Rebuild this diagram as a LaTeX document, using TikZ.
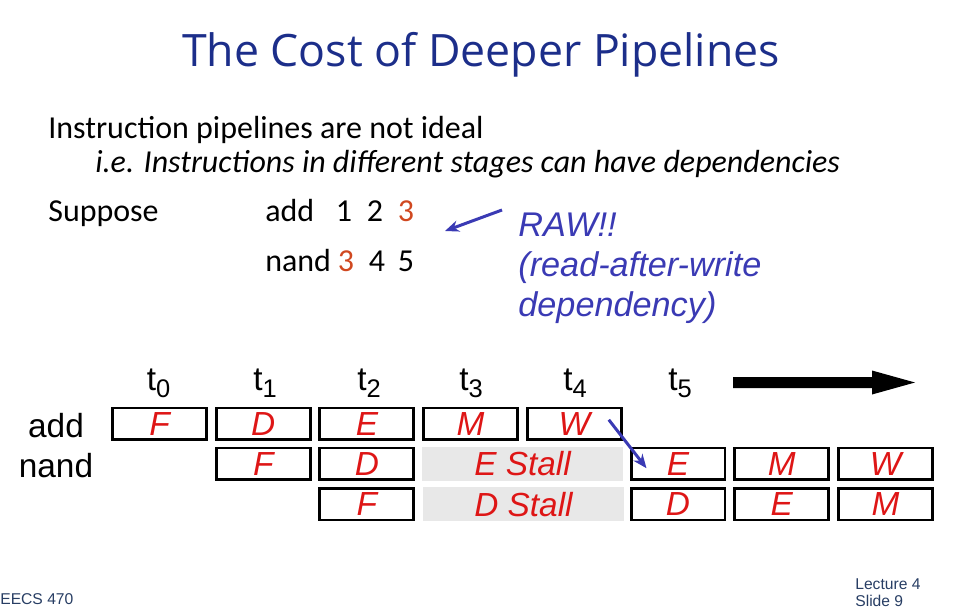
\documentclass[tikz,border=0pt]{standalone}
\usepackage{fontspec}
\setmainfont{Carlito}
\newfontfamily\arialf{Liberation Sans}
\newfontfamily\titlef{Open Sans}
\usetikzlibrary{arrows.meta,calc}
\definecolor{titleblue}{RGB}{28,46,138}
\definecolor{cellred}{RGB}{222,22,22}
\definecolor{numred}{RGB}{208,72,32}
\definecolor{rawblue}{RGB}{58,58,180}
\definecolor{stallgrey}{RGB}{232,232,232}
\definecolor{footblue}{RGB}{40,62,100}
\newcommand{\tsub}[1]{t\raisebox{-4pt}{\fontsize{14.5}{16}\selectfont #1}}
\begin{document}
\begin{tikzpicture}[x=0.02cm,y=-0.02cm,
  txt/.style={inner sep=0pt,anchor=base west},
  body/.style={txt,font=\fontsize{18.2}{22}\selectfont},
  arialtxt/.style={inner sep=0pt,font=\arialf\fontsize{19}{22}\selectfont},
  rawtxt/.style={txt,font=\arialf\itshape\fontsize{19.5}{22}\selectfont,text=rawblue},
  cell/.style={draw=black,line width=1.7pt,minimum width=1.88cm,minimum height=0.63cm,inner sep=0pt,
    font=\arialf\itshape\fontsize{19}{22}\selectfont,text=cellred},
  stall/.style={fill=stallgrey,minimum width=4.02cm,minimum height=0.69cm,inner sep=0pt,
    font=\arialf\itshape\fontsize{19}{22}\selectfont,text=cellred},
  tlab/.style={inner sep=0pt,anchor=base west,font=\arialf\fontsize{19}{22}\selectfont},
  bluearrow/.style={draw=rawblue,line width=1.7pt,-{Stealth[length=8pt,width=6.5pt]}},
  foot/.style={inner sep=0pt,anchor=base west,font=\arialf\fontsize{8.9}{10}\selectfont,text=footblue}
]
\useasboundingbox (0,0) rectangle (958,612);

% title
\node[inner sep=0pt,anchor=base,font=\titlef\fontsize{25.4}{30}\selectfont,text=titleblue] (title) at (481,67) {The Cost of Deeper Pipelines};

% body text
\node[body] (l1) at (48,138) {Instruction pipelines are not ideal};
\node[body,font=\fontsize{18.2}{22}\selectfont\itshape] (l2) at (95,172) {i.e. Instructions in different stages can have dependencies};
\node[body] (sup) at (48,221) {Suppose};
\node[body] (add) at (265,221) {add};
\node[body,anchor=base] (a1) at (344,221) {1};
\node[body,anchor=base] (a2) at (375,221) {2};
\node[body,anchor=base,text=numred] (a3) at (406,221) {3};
\node[body] (nand) at (265,271) {nand};
\node[body,anchor=base,text=numred] (n3) at (346,271) {3};
\node[body,anchor=base] (n4) at (377,271) {4};
\node[body,anchor=base] (n5) at (406,271) {5};

% RAW note
\node[rawtxt] (raw1) at (518,236.5) {RAW!!};
\node[rawtxt] (raw2) at (518,276.5) {(read-after-write};
\node[rawtxt] (raw3) at (518,316.5) {dependency)};
\coordinate (rawfrom) at (502,210);
\coordinate (rawto) at (445,231);
\draw[bluearrow] (rawfrom) -- (rawto);

% time labels
\node[tlab] (t0) at (146.5,390) {\tsub{0}};
\node[tlab] (t1) at (253,390) {\tsub{1}};
\node[tlab] (t2) at (357,390) {\tsub{2}};
\node[tlab] (t3) at (459,390) {\tsub{3}};
\node[tlab] (t4) at (563,390) {\tsub{4}};
\node[tlab] (t5) at (668,390) {\tsub{5}};

% big time arrow
\coordinate (ta) at (733,382.5);
\fill[black] (ta) ++(0,-5.5) -- (872,377) -- (872,370.5) -- (915,382.5) -- (872,394.5) -- (872,388) -- (733,388) -- cycle;

% row labels
\node[arialtxt,anchor=base] (radd) at (56,437) {add};
\node[arialtxt,anchor=base] (rnand) at (56,477) {nand};

% pipeline cells
\node[cell] (r1c0) at (159.5,423.75) {F};
\node[cell] (r1c1) at (263.2,423.75) {D};
\node[cell] (r1c2) at (366.9,423.75) {E};
\node[cell] (r1c3) at (470.6,423.75) {M};
\node[cell] (r1c4) at (574.3,423.75) {W};

\node[cell] (r2c1) at (263.2,463.75) {F};
\node[cell] (r2c2) at (366.9,463.75) {D};
\node[stall] (r2s) at (522.5,463.75) {E Stall};
\node[cell] (r2c5) at (678,463.75) {E};
\node[cell] (r2c6) at (781.7,463.75) {M};
\node[cell] (r2c7) at (885.5,463.75) {W};

\node[cell] (r3c2) at (366.9,504.25) {F};
\node[stall] (r3s) at (523.5,504.25) {D Stall};
\node[cell] (r3c5) at (678,504.25) {D};
\node[cell] (r3c6) at (781.7,504.25) {E};
\node[cell] (r3c7) at (885.5,504.25) {M};

% forwarding arrow
\draw[bluearrow] ($(r1c4.east)+(-14,-4)$) -- ($(r2c5.west)+(17,4.5)$);

% footer
\node[foot] (eecs) at (0,604) {EECS 470};
\node[foot] (lec) at (855,589) {Lecture 4};
\node[foot] (slide) at (855,606) {Slide 9};
\end{tikzpicture}
\end{document}
